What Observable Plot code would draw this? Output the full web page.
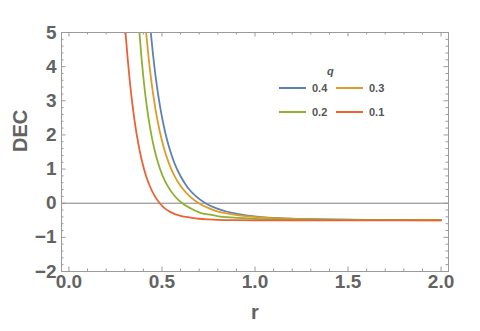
<!DOCTYPE html>
<html><head><meta charset="utf-8">
<script src="https://cdn.jsdelivr.net/npm/d3@7"></script>
<script src="https://cdn.jsdelivr.net/npm/@observablehq/plot@0.6"></script>
<style>
body{margin:0;background:#fff;}
#wrap{position:relative;width:480px;height:331px;font-family:"Liberation Sans",Arial,sans-serif;}
.lg{position:absolute;font-size:11px;font-weight:bold;color:#555;line-height:12px;}
.sw{position:absolute;height:2px;}
</style></head><body><div id="wrap"></div>
<script>
// ---- data ----
const qLabels = ["0.4", "0.3", "0.2", "0.1"];
const seriesColors = ["#5E81B5", "#E19C24", "#8FB032", "#EB6235"];

const r_q04 = [0.433, 0.440, 0.450, 0.467, 0.490, 0.515, 0.542, 0.568, 0.600, 0.637, 0.683, 0.734, 0.797, 0.85, 0.904, 1.01, 1.137, 1.25, 1.40, 1.60, 1.80, 2.00];
const dec_q04 = [5.43, 5.0, 4.45, 3.66, 2.82, 2.13, 1.57, 1.16, 0.79, 0.47, 0.20, 0.0, -0.16, -0.25, -0.31, -0.39, -0.44, -0.46, -0.476, -0.487, -0.492, -0.495];

const r_q03 = [0.408, 0.415, 0.425, 0.442, 0.463, 0.487, 0.512, 0.538, 0.570, 0.603, 0.648, 0.698, 0.745, 0.797, 0.85, 0.904, 1.01, 1.137, 1.25, 1.40, 1.60, 1.80, 2.00];
const dec_q03 = [5.45, 5.0, 4.43, 3.61, 2.82, 2.13, 1.59, 1.16, 0.77, 0.48, 0.21, 0.0, -0.13, -0.24, -0.30, -0.35, -0.41, -0.447, -0.466, -0.48, -0.489, -0.494, -0.496];

const r_q02 = [0.372, 0.379, 0.389, 0.399, 0.418, 0.438, 0.458, 0.478, 0.503, 0.528, 0.567, 0.609, 0.658, 0.707, 0.75, 0.797, 0.85, 0.904, 1.00, 1.10, 1.20, 1.35, 1.50, 1.75, 2.00];
const dec_q02 = [5.54, 5.0, 4.32, 3.74, 2.85, 2.15, 1.61, 1.20, 0.81, 0.53, 0.22, 0.0, -0.16, -0.28, -0.33, -0.375, -0.41, -0.43, -0.46, -0.475, -0.484, -0.491, -0.495, -0.498, -0.499];

const r_q01 = [0.296, 0.304, 0.315, 0.327, 0.341, 0.357, 0.374, 0.393, 0.415, 0.438, 0.462, 0.488, 0.515, 0.546, 0.60, 0.653, 0.70, 0.75, 0.80, 0.90, 1.00, 1.50, 2.00];
const dec_q01 = [5.6, 5.0, 4.27, 3.58, 2.90, 2.26, 1.71, 1.22, 0.79, 0.46, 0.20, 0.0, -0.15, -0.26, -0.37, -0.42, -0.455, -0.475, -0.488, -0.497, -0.5, -0.5, -0.5];

const yTickValues = [-2, -1, 0, 1, 2, 3, 4, 5];
const yTickLabels = ["\u22122", "\u22121", "0", "1", "2", "3", "4", "5"];
const xTickValues = [0, 0.5, 1, 1.5, 2];
const xTickLabels = ["0.0", "0.5", "1.0", "1.5", "2.0"];
const xLabel = "r";
const yLabel = "DEC";
const legendTitle = "q";

// ---- build table ----
const seriesR = [r_q04, r_q03, r_q02, r_q01];
const seriesDec = [dec_q04, dec_q03, dec_q02, dec_q01];
const rows = [];
qLabels.forEach((q, k) => seriesR[k].forEach((r, i) => rows.push({q, r, dec: seriesDec[k][i]})));

const yMinor = d3.range(-20, 51, 2).map(d => d / 10).filter(d => !yTickValues.includes(d));
const xMinor = d3.range(0, 21, 1).map(d => d / 10).filter(d => !xTickValues.includes(d));

const W = 480, H = 331, mL = 61, mR = 32, mT = 32, mB = 60;
const pw = W - mL - mR, ph = H - mT - mB;
const frameColor = "#9a9a9a", labColor = "#636363";
const font = "'Liberation Sans', Arial, sans-serif";

const plot = Plot.plot({
  width: W, height: H,
  marginLeft: mL, marginRight: mR, marginTop: mT, marginBottom: mB,
  x: {domain: [-0.04, 2.04], axis: null},
  y: {domain: [-2, 5], axis: null},
  color: {domain: qLabels, range: seriesColors},
  style: {fontFamily: font, background: "#fff"},
  marks: [
    Plot.ruleY([0], {stroke: "#808080", strokeWidth: 1}),
    Plot.line(rows, {x: "r", y: "dec", z: "q", stroke: "q", strokeWidth: 1.8, curve: "monotone-x", clip: true}),
    Plot.frame({stroke: frameColor}),
    // inward ticks, all four sides
    Plot.ruleY(yTickValues, {y: d => d, insetRight: pw - 4.5, stroke: frameColor}),
    Plot.ruleY(yMinor, {y: d => d, insetRight: pw - 2.5, stroke: frameColor}),
    Plot.ruleY(yTickValues, {y: d => d, insetLeft: pw - 4.5, stroke: frameColor}),
    Plot.ruleY(yMinor, {y: d => d, insetLeft: pw - 2.5, stroke: frameColor}),
    Plot.ruleX(xTickValues, {x: d => d, insetTop: ph - 4.5, stroke: frameColor}),
    Plot.ruleX(xMinor, {x: d => d, insetTop: ph - 2.5, stroke: frameColor}),
    Plot.ruleX(xTickValues, {x: d => d, insetBottom: ph - 4.5, stroke: frameColor}),
    Plot.ruleX(xMinor, {x: d => d, insetBottom: ph - 2.5, stroke: frameColor}),
    // tick labels
    Plot.text(yTickValues, {y: d => d, text: (d, i) => yTickLabels[i], frameAnchor: "left", dx: -5, textAnchor: "end",
      fontSize: 19, fontWeight: "bold", fill: labColor}),
    Plot.text(xTickValues, {x: d => d, text: (d, i) => xTickLabels[i], frameAnchor: "bottom", dy: 16,
      fontSize: 19, fontWeight: "bold", fill: labColor}),
    // axis labels
    Plot.text([yLabel], {text: d => d, frameAnchor: "left", dx: -41, rotate: -90, fontSize: 20, fontWeight: "bold", fill: labColor}),
    Plot.text([xLabel], {text: d => d, frameAnchor: "bottom", dy: 47, fontSize: 20, fontWeight: "bold", fill: labColor})
  ]
});

const wrap = document.getElementById("wrap");
wrap.appendChild(plot);

// legend overlay inside the frame
const color = plot.scale("color");
const title = document.createElement("div");
title.className = "lg";
title.style.cssText = "left:327px;top:65px;font-style:italic;";
title.textContent = legendTitle;
wrap.appendChild(title);
const cols = [279, 336], rowsY = [88, 112];
qLabels.forEach((q, i) => {
  const cx = cols[i % 2], cy = rowsY[Math.floor(i / 2)];
  const sw = document.createElement("div");
  sw.className = "sw";
  sw.style.cssText = `left:${cx}px;top:${cy - 1}px;width:27px;background:${color.apply(q)};`;
  wrap.appendChild(sw);
  const t = document.createElement("div");
  t.className = "lg";
  t.style.cssText = `left:${cx + 33}px;top:${cy - 6}px;`;
  t.textContent = q;
  wrap.appendChild(t);
});
</script></body></html>
